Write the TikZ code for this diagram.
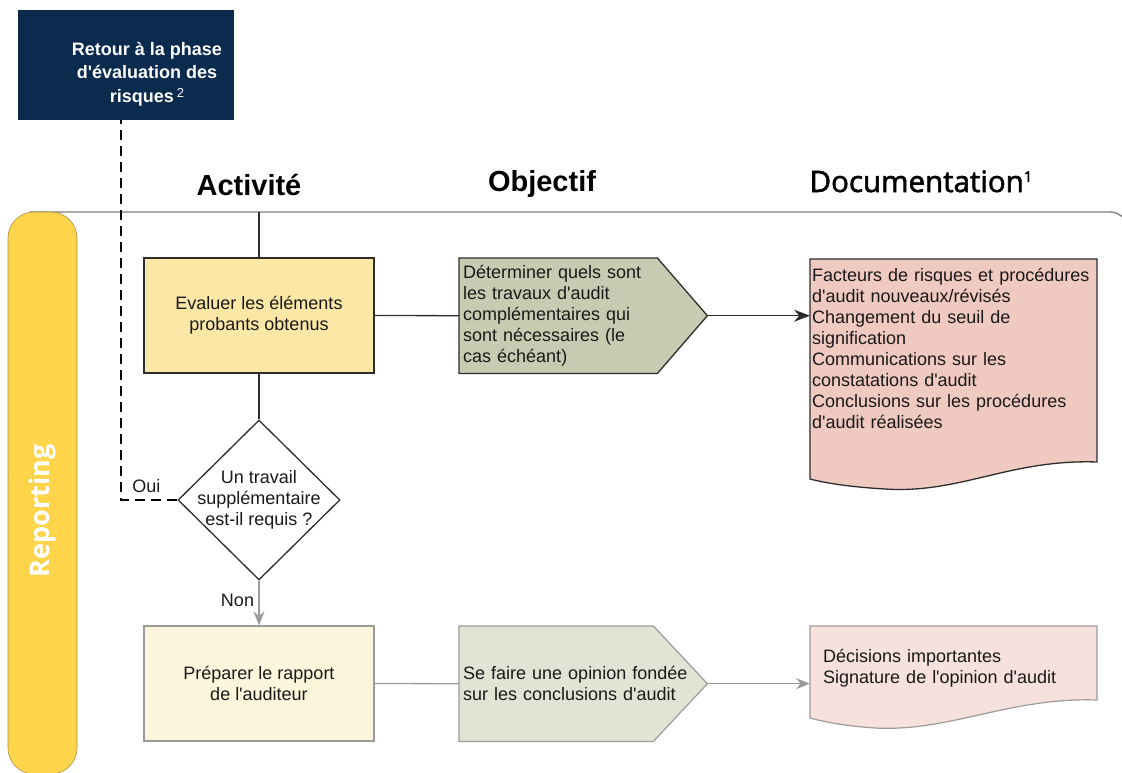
\documentclass[tikz,border=0pt]{standalone}
\usepackage{fontspec}
\setmainfont{Liberation Sans}[Ligatures=TeXOff]
\newfontfamily\humanist{Open Sans}
\newfontfamily\humanistheavy{Open Sans}[FakeBold=2]
\usetikzlibrary{arrows.meta,shapes.geometric,backgrounds,calc}

\definecolor{navy}{RGB}{10,42,78}
\definecolor{laneyellow}{RGB}{253,212,74}
\definecolor{lanerim}{RGB}{170,145,70}
\definecolor{actfill}{RGB}{251,232,166}
\definecolor{actfilllight}{RGB}{253,245,220}
\definecolor{objfill}{RGB}{198,204,177}
\definecolor{objfilllight}{RGB}{225,227,213}
\definecolor{docfill}{RGB}{240,201,193}
\definecolor{docfilllight}{RGB}{247,225,220}
\definecolor{darkline}{RGB}{45,45,45}
\definecolor{softline}{RGB}{155,155,155}
\definecolor{laneline}{RGB}{125,125,125}
\definecolor{ink}{RGB}{25,25,25}

\newcommand\bodyfont{\fontsize{18}{21}\selectfont}

\begin{document}
\begin{tikzpicture}[x=1pt,y=-1pt,
  every node/.style={text=ink, font=\bodyfont},
  actbox/.style={rectangle, minimum width=230pt, minimum height=115pt,
    align=center, inner sep=0pt, line width=1.4pt},
  objbox/.style={rectangle, anchor=north west, minimum width=248pt,
    minimum height=115pt, text width=240pt, inner xsep=4pt, inner ysep=0pt,
    align=left},
  docbox/.style={rectangle, anchor=north west, align=left, inner ysep=0pt},
  decision/.style={diamond, draw=darkline, line width=1.3pt, fill=white,
    minimum width=162pt, minimum height=160pt, inner sep=0pt},
  header/.style={anchor=base, text=black},
  solidlink/.style={draw=darkline, line width=1.3pt},
  softlink/.style={draw=softline, line width=1.3pt},
  darktip/.style={-{Stealth[length=16pt,width=12pt]}},
  softtip/.style={-{Stealth[length=14pt,width=11pt]}},
  returnlink/.style={draw=black, line width=1.1pt, dash pattern=on 10pt off 6pt},
]
\useasboundingbox (0,0) rectangle (1122,773);

% swimlane frame
\draw[laneline, line width=1.3pt, rounded corners=18pt]
  (30,212) -- (1128,212) -- (1128,773);

% lane tab
\node[fill=laneyellow, draw=lanerim, line width=0.6pt, rounded corners=26pt,
  minimum width=69pt, minimum height=562pt, inner sep=0pt] (lane) at (42.5,493) {};
\node[rotate=90, text=white, font=\humanist\bfseries\fontsize{27}{27}\selectfont]
  (lanetitle) at (42,511) {Reporting};

% return box
\node[fill=navy, minimum width=216pt, minimum height=110pt, inner sep=0pt]
  (retour) at (126,65) {};
\node[text=white, align=center, font=\bfseries\fontsize{18}{23.5}\selectfont]
  (retourtxt) at (147,74)
  {Retour à la phase\\d'évaluation des\\risques\,{\mdseries\fontsize{13}{13}\selectfont\raisebox{5pt}{2}}};

% column headers
\node[header, font=\bfseries\fontsize{29}{29}\selectfont] (hact) at (249,195) {Activité};
\node[header, font=\bfseries\fontsize{29}{29}\selectfont] (hobj) at (542,191) {Objectif};
\node[header, font=\humanistheavy\fontsize{29.5}{29.5}\selectfont] (hdoc) at (921,192)
  {Documentation\raisebox{10pt}{\fontsize{15}{15}\selectfont 1}};

% activity column
\node[actbox, draw=darkline, fill=actfill] (eval) at (259,315.5)
  {Evaluer les éléments\\probants obtenus};
\node[decision, label={[align=center]center:Un travail\\supplémentaire\\est-il requis ?}]
  (dec) at (259,500) {};
\node[actbox, draw=softline, fill=actfilllight, line width=1.2pt] (prep) at (259,683.5)
  {Préparer le rapport\\de l'auditeur};

% objective column
\node[objbox] (obj1) at (459,258)
  {Déterminer quels sont\\les travaux d'audit\\complémentaires qui\\sont nécessaires (le\\cas échéant)};
\node[objbox] (obj2) at (459,626)
  {Se faire une opinion fondée\\sur les conclusions d'audit};

% documentation column
\node[docbox, text width=283pt, inner xsep=2pt, text height=22pt, text depth=198pt]
  (doc1) at (810,259)
  {Facteurs de risques et procédures\\d'audit nouveaux/révisés\\Changement du seuil de\\signification\\Communications sur les\\constatations d'audit\\Conclusions sur les procédures\\d'audit réalisées};
\node[docbox, text width=261pt, inner xsep=13pt, text height=36pt, text depth=56pt]
  (doc2) at (810,626)
  {Décisions importantes\\Signature de l'opinion d'audit};

% shapes behind the texts
\begin{scope}[on background layer]
  \draw[fill=objfill, draw=darkline, line width=1.3pt]
    (obj1.north west) -- ($(obj1.north east)+(-50,0)$) -- (obj1.east)
    -- ($(obj1.south east)+(-50,0)$) -- (obj1.south west) -- cycle;
  \draw[fill=objfilllight, draw=softline, line width=1.2pt]
    (obj2.north west) -- ($(obj2.north east)+(-54,0)$) -- (obj2.east)
    -- ($(obj2.south east)+(-54,0)$) -- (obj2.south west) -- cycle;
  \begin{scope}[shift={(doc1.north west)}]
    \draw[fill=docfill, draw=darkline, line width=1.3pt]
      (0,0) -- (287,0) -- (287,203)
      .. controls (200,200) and (150,235) .. (75,230)
      .. controls (40,228) and (15,224) .. (0,220) -- cycle;
  \end{scope}
  \begin{scope}[shift={(doc2.north west)}]
    \draw[fill=docfilllight, draw=softline, line width=1.2pt]
      (0,0) -- (287,0) -- (287,74)
      .. controls (200,71) and (140,106) .. (65,102)
      .. controls (35,100) and (15,96) .. (0,92) -- cycle;
  \end{scope}
\end{scope}

% connectors
\coordinate (lanetop) at (259,212);
\draw[solidlink] (lanetop) -- (eval.north);
\draw[solidlink] (eval.south) -- (dec.north);
\draw[solidlink] (eval.east) -- (obj1.west);
\draw[solidlink, darktip] (obj1.east) -- (obj1.east -| doc1.west);
\draw[softlink, softtip] (dec.south) -- node[pos=0.45, left=1pt] {Non} (prep.north);
\draw[softlink] (prep.east) -- (obj2.west);
\draw[softlink, softtip] (obj2.east) -- (obj2.east -| doc2.west);
\draw[returnlink] (dec.west) -- node[pos=0.55, above=3pt] {Oui}
  ($(dec.west -| retour.south)+(-5,0)$) -- ([xshift=-5pt]retour.south);
\end{tikzpicture}
\end{document}
